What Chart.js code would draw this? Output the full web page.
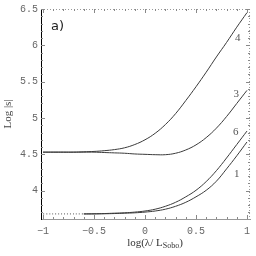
<!DOCTYPE html>
<html>
<head>
<meta charset="utf-8">
<script src="https://cdn.jsdelivr.net/npm/chart.js@4.4.1/dist/chart.umd.min.js"></script>
<style>
  html, body { margin: 0; padding: 0; background: #fff; }
  #wrap { width: 256px; height: 256px; }
</style>
</head>
<body>
<div id="wrap"><canvas id="c" width="256" height="256"></canvas></div>
<script>
// valores
const xs = [-1, -0.9, -0.8, -0.7, -0.6, -0.5, -0.4, -0.3, -0.2, -0.1, 0, 0.1, 0.2, 0.3, 0.4, 0.5, 0.6, 0.7, 0.8, 0.9, 1];
const curve4 = [4.53, 4.53, 4.53, 4.53, 4.535, 4.54, 4.55, 4.565, 4.59, 4.635, 4.7, 4.79, 4.91, 5.06, 5.24, 5.43, 5.63, 5.84, 6.04, 6.25, 6.45];
const curve3 = [4.53, 4.53, 4.53, 4.53, 4.53, 4.53, 4.525, 4.52, 4.515, 4.505, 4.5, 4.495, 4.495, 4.515, 4.56, 4.63, 4.73, 4.86, 5.02, 5.2, 5.38];
const xsLow = [-0.6, -0.5, -0.4, -0.3, -0.2, -0.1, 0, 0.1, 0.2, 0.3, 0.4, 0.5, 0.6, 0.7, 0.8, 0.9, 1];
const curve6 = [3.68, 3.682, 3.685, 3.69, 3.695, 3.705, 3.72, 3.745, 3.785, 3.84, 3.915, 4.005, 4.125, 4.275, 4.45, 4.635, 4.82];
const curve1 = [3.68, 3.68, 3.682, 3.685, 3.69, 3.695, 3.705, 3.72, 3.745, 3.785, 3.84, 3.915, 4.005, 4.13, 4.3, 4.48, 4.67];
const xsFlat = [-1, -0.6];
const flatLow = [3.68, 3.68];

const xTicks = [-1, -0.5, 0, 0.5, 1];
const yTicks = [4, 4.5, 5, 5.5, 6, 6.5];
const curveLabels = ['4', '3', '6', '1'];
const labelX = [0.91, 0.895, 0.89, 0.9];
const labelY = [6.1, 5.33, 4.8, 4.23];

function pts(xv, yv) { return xv.map((x, i) => ({ x: x, y: yv[i] })); }
function fmt(v) { return String(v).replace('-', '\u2212'); }

const lineStyle = { borderColor: '#3a3a3a', borderWidth: 1, pointRadius: 0, fill: false, tension: 0.4 };

// marco punteado, marcas hacia adentro, etiquetas de curvas y titulo x
const decor = {
    id: 'decor',
    afterDraw(chart) {
        const ctx = chart.ctx;
        const a = chart.chartArea;
        const sx = chart.scales.x, sy = chart.scales.y;
        ctx.save();
        ctx.strokeStyle = '#999';
        ctx.lineWidth = 1;
        ctx.setLineDash([1, 2]);
        ctx.beginPath();
        ctx.moveTo(a.left, a.top + 0.5); ctx.lineTo(a.right, a.top + 0.5);
        ctx.moveTo(a.right - 0.5, a.top); ctx.lineTo(a.right - 0.5, a.bottom);
        ctx.stroke();
        ctx.setLineDash([]);

        // marcas
        ctx.strokeStyle = '#888';
        ctx.beginPath();
        for (let v = -1; v <= 1.001; v += 0.1) {
            const px = Math.round(sx.getPixelForValue(v)) + 0.5;
            const major = Math.abs(v * 2 - Math.round(v * 2)) < 0.01;
            const len = major ? 4 : 2;
            ctx.moveTo(px, a.top); ctx.lineTo(px, a.top + len);
            ctx.moveTo(px, a.bottom); ctx.lineTo(px, a.bottom - len);
        }
        for (let v = 3.7; v <= 6.501; v += 0.1) {
            const py = Math.round(sy.getPixelForValue(v)) + 0.5;
            const major = Math.abs(v * 2 - Math.round(v * 2)) < 0.01;
            const len = major ? 4 : 2;
            ctx.moveTo(a.left, py); ctx.lineTo(a.left + len, py);
            ctx.moveTo(a.right, py); ctx.lineTo(a.right - len, py);
        }
        ctx.stroke();

        // etiquetas de las curvas
        ctx.fillStyle = '#555';
        ctx.font = '11px "Liberation Serif"';
        ctx.textAlign = 'center';
        ctx.textBaseline = 'middle';
        curveLabels.forEach((t, i) => {
            ctx.fillText(t, sx.getPixelForValue(labelX[i]), sy.getPixelForValue(labelY[i]));
        });

        // panel
        ctx.fillStyle = '#222';
        ctx.font = '13px "DejaVu Sans"';
        ctx.textAlign = 'left';
        ctx.fillText('a)', a.left + 10, a.top + 18);

        // titulo eje x con subindice
        const main = 'log(\u03bb/ L';
        const sub = 'Sobo';
        ctx.fillStyle = '#333';
        ctx.font = '11px "Liberation Serif"';
        const w1 = ctx.measureText(main).width;
        ctx.font = '8px "Liberation Serif"';
        const w2 = ctx.measureText(sub).width;
        ctx.font = '11px "Liberation Serif"';
        const w3 = ctx.measureText(')').width;
        let x0 = 155 - (w1 + w2 + w3) / 2;
        const yb = 246;
        ctx.textBaseline = 'alphabetic';
        ctx.fillText(main, x0, yb);
        ctx.font = '8px "Liberation Serif"';
        ctx.fillText(sub, x0 + w1, yb + 2);
        ctx.font = '11px "Liberation Serif"';
        ctx.fillText(')', x0 + w1 + w2, yb);
        ctx.restore();
    }
};

new Chart(document.getElementById('c'), {
    type: 'line',
    data: {
        datasets: [
            Object.assign({ data: pts(xs, curve4) }, lineStyle),
            Object.assign({ data: pts(xs, curve3) }, lineStyle),
            Object.assign({ data: pts(xsLow, curve6) }, lineStyle),
            Object.assign({ data: pts(xsLow, curve1) }, lineStyle),
            Object.assign({ data: pts(xsFlat, flatLow) }, lineStyle, { borderDash: [1, 2], borderColor: '#555' })
        ]
    },
    options: {
        responsive: false,
        animation: false,
        layout: { padding: { top: 5, right: 2, left: 0, bottom: 0 } },
        plugins: { legend: { display: false }, tooltip: { enabled: false } },
        scales: {
            x: {
                type: 'linear',
                min: -1.02,
                max: 1.03,
                afterBuildTicks: s => { s.ticks = xTicks.map(v => ({ value: v })); },
                afterFit: s => { s.height = 37; },
                grid: { drawOnChartArea: false, drawTicks: false },
                border: { display: true, color: '#999', dash: [1, 2] },
                ticks: {
                    padding: 6,
                    color: '#666',
                    font: { family: 'Liberation Mono', size: 10 },
                    maxRotation: 0,
                    callback: v => fmt(v)
                }
            },
            y: {
                type: 'linear',
                min: 3.61,
                max: 6.5,
                afterBuildTicks: s => { s.ticks = yTicks.map(v => ({ value: v })); },
                afterFit: s => { s.width = 41; },
                grid: { drawOnChartArea: false, drawTicks: false },
                border: { display: true, color: '#000', width: 1 },
                ticks: {
                    padding: 3,
                    color: '#666',
                    font: { family: 'Liberation Mono', size: 10 },
                    callback: v => fmt(v)
                },
                title: {
                    display: true,
                    text: 'Log |s|',
                    color: '#444',
                    font: { family: 'Liberation Serif', size: 11 },
                    padding: { top: 2, bottom: 0 }
                }
            }
        }
    },
    plugins: [decor]
});
</script>
</body>
</html>
